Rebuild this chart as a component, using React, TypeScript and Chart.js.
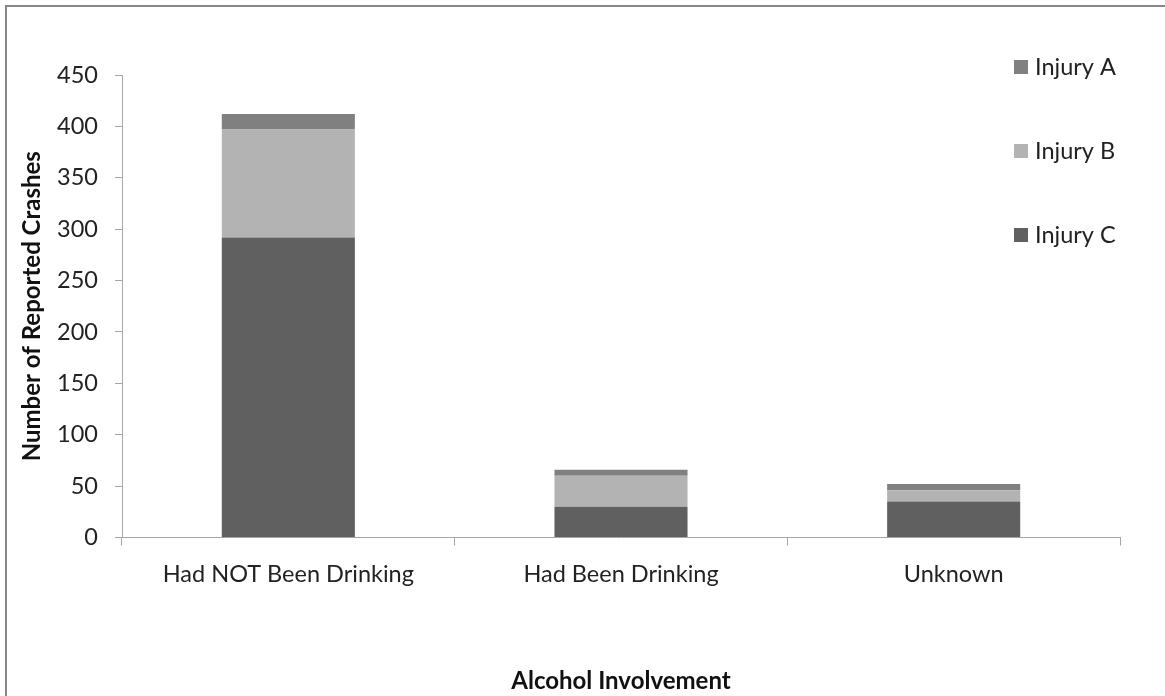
import React, { useEffect, useRef } from "react";
import { Chart, registerables } from "chart.js";

Chart.register(...registerables);

const categories = ["Had NOT Been Drinking", "Had Been Drinking", "Unknown"];
const injuryC = [292, 30, 35];
const injuryB = [105, 30, 11];
const injuryA = [15, 6, 6];
const seriesNames = ["Injury C", "Injury B", "Injury A"];
const seriesColors = ["#606060", "#b3b3b3", "#808080"];
const yMin = 0;
const yMax = 450;
const yStep = 50;
const xTitle = "Alcohol Involvement";
const yTitle = "Number of Reported Crashes";

const FONT = "Lato, 'Open Sans', sans-serif";
const TICK_SIZE = 23.5;
const TITLE_SIZE = 24;

const framePlugin = {
  id: "frame",
  beforeDraw(chart: any) {
    const ctx = chart.ctx;
    ctx.save();
    ctx.fillStyle = "#ffffff";
    ctx.fillRect(0, 0, chart.width, chart.height);
    ctx.fillStyle = "#878787";
    ctx.fillRect(5, 5, 2, chart.height - 5);
    ctx.fillRect(5, 5, chart.width - 5, 2);
    ctx.restore();
  },
};

const legendPlugin = {
  id: "customLegend",
  afterDraw(chart: any) {
    const ctx = chart.ctx;
    const ds = chart.data.datasets.slice().reverse();
    ctx.save();
    ctx.font = `${TICK_SIZE}px ${FONT}`;
    ctx.textBaseline = "middle";
    ctx.textAlign = "left";
    ds.forEach((d: any, i: number) => {
      const cy = 67 + i * 84;
      ctx.fillStyle = d.backgroundColor;
      ctx.fillRect(1014, cy - 7, 14, 14);
      ctx.fillStyle = "#222222";
      ctx.fillText(d.label, 1035, cy);
    });
    ctx.restore();
  },
};

export default function App() {
  const ref = useRef<HTMLCanvasElement>(null);
  useEffect(() => {
    if (!ref.current) return;
    const values = [injuryC, injuryB, injuryA];
    const chart = new Chart(ref.current, {
      type: "bar",
      data: {
        labels: categories,
        datasets: values.map((v, i) => ({
          label: seriesNames[i],
          data: v,
          backgroundColor: seriesColors[i],
          borderWidth: 0,
          barPercentage: 0.4,
          categoryPercentage: 1,
        })),
      },
      options: {
        animation: false,
        responsive: false,
        maintainAspectRatio: false,
        layout: { padding: { left: 17.6, right: 45, top: 75, bottom: 0 } },
        plugins: {
          legend: { display: false },
          tooltip: { enabled: false },
          title: { display: false },
        },
        scales: {
          x: {
            stacked: true,
            grid: {
              display: true,
              drawOnChartArea: false,
              drawTicks: true,
              tickLength: 8,
              color: "#a6a6a6",
              offset: true,
            },
            border: { display: true, color: "#a6a6a6", width: 1 },
            ticks: {
              color: "#222222",
              font: { family: FONT, size: TICK_SIZE },
              padding: 14.5,
              maxRotation: 0,
              autoSkip: false,
            },
            title: {
              display: true,
              text: xTitle,
              color: "#111111",
              font: { family: FONT, size: TITLE_SIZE, weight: "bold" },
              padding: { top: 0, bottom: 0 },
            },
            afterFit: (s: any) => {
              s.height = 158.5;
            },
          },
          y: {
            stacked: true,
            min: yMin,
            max: yMax,
            ticks: {
              stepSize: yStep,
              color: "#222222",
              font: { family: FONT, size: TICK_SIZE },
              padding: 17,
            },
            grid: {
              display: true,
              drawOnChartArea: false,
              drawTicks: true,
              tickLength: 7,
              color: "#a6a6a6",
            },
            border: { display: true, color: "#a6a6a6", width: 1 },
            title: {
              display: true,
              text: yTitle,
              color: "#111111",
              font: { family: FONT, size: TITLE_SIZE, weight: "bold" },
              padding: { top: 0, bottom: 0 },
            },
            afterFit: (s: any) => {
              s.width = 104.4;
            },
          },
        },
      },
      plugins: [framePlugin, legendPlugin],
    });
    return () => chart.destroy();
  }, []);
  return (
    <div style={{ position: "absolute", left: 0, top: 0, width: 1165, height: 696 }}>
      <canvas ref={ref} width={1165} height={696} style={{ display: "block", width: 1165, height: 696 }} />
    </div>
  );
}
